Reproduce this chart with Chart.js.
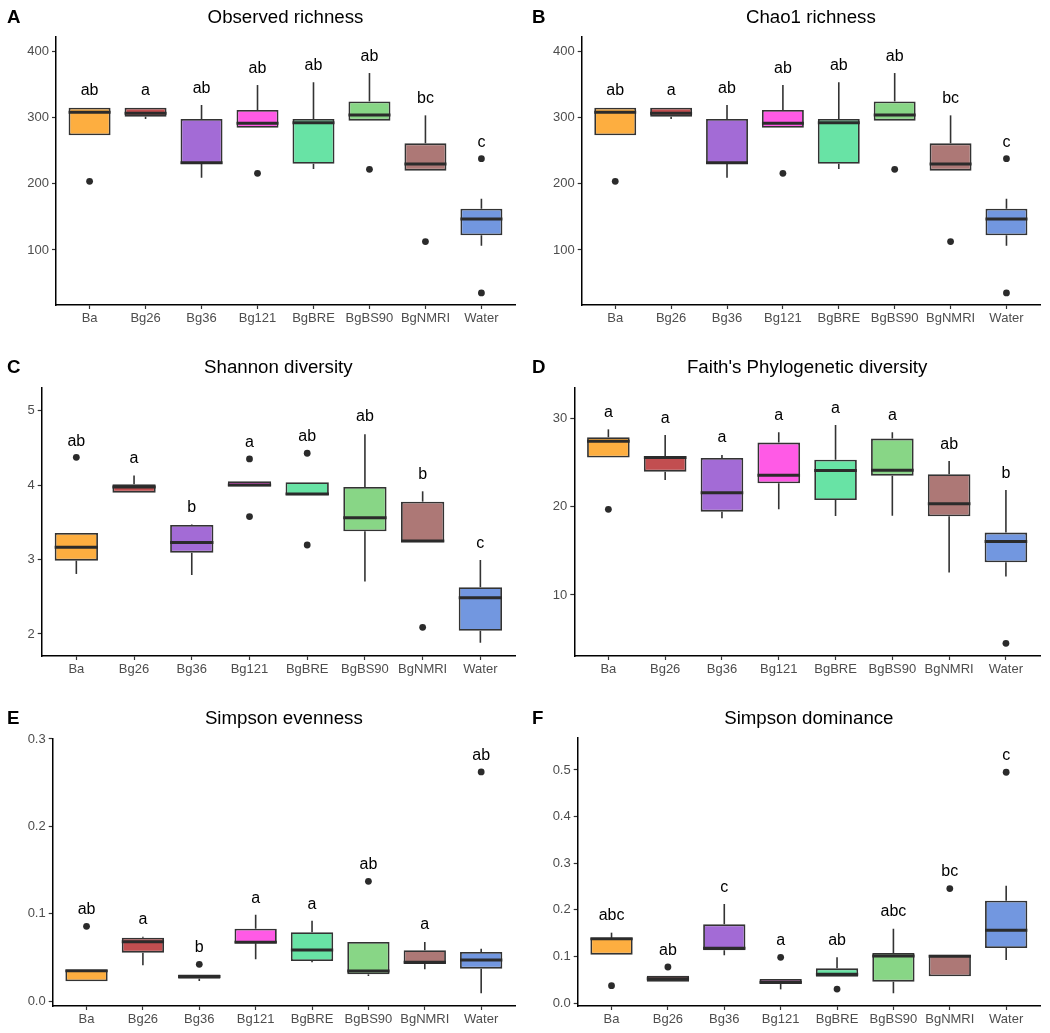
<!DOCTYPE html>
<html>
<head>
<meta charset="utf-8">
<script src="https://cdn.jsdelivr.net/npm/chart.js@4.4.1/dist/chart.umd.min.js"></script>
<style>
  body { margin: 0; background: #fff; }
  #wrap { position: relative; width: 1050px; height: 1033px; }
  canvas { position: absolute; }
</style>
</head>
<body>
<div id="wrap">
  <canvas id="panelA" width="525" height="330" style="left:0;top:0"></canvas>
  <canvas id="panelB" width="525" height="330" style="left:525px;top:0"></canvas>
  <canvas id="panelC" width="525" height="350" style="left:0;top:330px"></canvas>
  <canvas id="panelD" width="525" height="350" style="left:525px;top:330px"></canvas>
  <canvas id="panelE" width="525" height="353" style="left:0;top:680px"></canvas>
  <canvas id="panelF" width="525" height="353" style="left:525px;top:680px"></canvas>
</div>
<script>
const groups = ['Ba', 'Bg26', 'Bg36', 'Bg121', 'BgBRE', 'BgBS90', 'BgNMRI', 'Water'];
const fills = ['#FDAE40', '#C24E50', '#A36BD6', '#FF5AE6', '#68E3A5', '#88D686', '#AD7876', '#7297E0'];

// y tick values per panel
const richnessTicks = [100, 200, 300, 400];
const shannonTicks = [2, 3, 4, 5];
const faithTicks = [10, 20, 30];
const evennessTicks = [0, 0.1, 0.2, 0.3];
const dominanceTicks = [0, 0.1, 0.2, 0.3, 0.4, 0.5];

// rows: [lower whisker, Q1, median, Q3, upper whisker]
const observedStats = [
  [272.9, 272.9, 307.5, 314.6, 314.6],
  [297.5, 301.0, 306.0, 314.6, 314.6],
  [209.0, 229.6, 231.7, 297.5, 318.6],
  [284.4, 284.4, 291.0, 311.0, 348.7],
  [222.0, 230.0, 292.0, 297.5, 352.8],
  [295.0, 295.0, 303.5, 324.0, 366.8],
  [219.6, 219.6, 229.6, 260.8, 303.0],
  [106.5, 122.0, 146.7, 162.3, 177.4]
];
const observedOutliers = [[0, 203.5], [3, 215.6], [5, 221.6], [6, 112.6], [7, 237.7], [7, 35.2]];
const observedLetters = ['ab', 'a', 'ab', 'ab', 'ab', 'ab', 'bc', 'c'];
const observedLetterY = [340, 340, 344, 374, 378, 392, 328, 262];

const chao1Stats = [
  [272.9, 272.9, 307.5, 314.6, 314.6],
  [297.5, 301.0, 306.0, 314.6, 314.6],
  [209.0, 229.6, 231.7, 297.5, 318.6],
  [284.4, 284.4, 291.0, 311.0, 348.7],
  [222.0, 230.0, 292.0, 297.5, 352.8],
  [295.0, 295.0, 303.5, 324.0, 366.8],
  [219.6, 219.6, 229.6, 260.8, 303.0],
  [106.5, 122.0, 146.7, 162.3, 177.4]
];
const chao1Outliers = [[0, 203.5], [3, 215.6], [5, 221.6], [6, 112.6], [7, 237.7], [7, 35.2]];
const chao1Letters = ['ab', 'a', 'ab', 'ab', 'ab', 'ab', 'bc', 'c'];
const chao1LetterY = [340, 340, 344, 374, 378, 392, 328, 262];

const shannonStats = [
  [2.806, 2.985, 3.164, 3.356, 3.356],
  [3.898, 3.898, 3.974, 4.010, 4.127],
  [2.792, 3.092, 3.227, 3.464, 3.470],
  [3.979, 3.979, 4.001, 4.051, 4.051],
  [3.863, 3.863, 3.880, 4.037, 4.037],
  [2.703, 3.379, 3.562, 3.974, 4.682],
  [3.231, 3.231, 3.249, 3.777, 3.916],
  [1.883, 2.044, 2.488, 2.627, 2.994]
];
const shannonOutliers = [[0, 4.373], [3, 4.351], [3, 3.576], [4, 4.427], [4, 3.195], [6, 2.089]];
const shannonLetters = ['ab', 'a', 'b', 'a', 'ab', 'ab', 'b', 'c'];
const shannonLetterY = [4.59, 4.35, 3.70, 4.57, 4.65, 4.915, 4.145, 3.218];

const faithStats = [
  [25.55, 25.55, 27.40, 27.85, 28.75],
  [23.02, 23.96, 25.55, 25.70, 28.11],
  [18.68, 19.43, 21.58, 25.51, 25.85],
  [19.70, 22.64, 23.55, 27.25, 28.42],
  [18.94, 20.75, 24.08, 25.32, 29.25],
  [18.98, 23.51, 24.11, 27.70, 28.42],
  [12.53, 18.91, 20.34, 23.66, 25.17],
  [12.08, 13.70, 16.04, 17.06, 21.89]
];
const faithOutliers = [[0, 19.70], [7, 4.53]];
const faithLetters = ['a', 'a', 'a', 'a', 'a', 'a', 'ab', 'b'];
const faithLetterY = [30.64, 30.0, 27.81, 30.26, 31.13, 30.26, 27.06, 23.77];

const evennessStats = [
  [0.0228, 0.0228, 0.0350, 0.0358, 0.0358],
  [0.0411, 0.0556, 0.0682, 0.0728, 0.0739],
  [0.0232, 0.0259, 0.0282, 0.0305, 0.0305],
  [0.0480, 0.0663, 0.0674, 0.0831, 0.0991],
  [0.0446, 0.0461, 0.0587, 0.0789, 0.0922],
  [0.0289, 0.0308, 0.0347, 0.0678, 0.0678],
  [0.0366, 0.0427, 0.0446, 0.0583, 0.0678],
  [0.0091, 0.0373, 0.0472, 0.0564, 0.0602]
];
const evennessOutliers = [[0, 0.0857], [2, 0.0423], [5, 0.1372], [7, 0.2623]];
const evennessLetters = ['ab', 'a', 'b', 'a', 'a', 'ab', 'a', 'ab'];
const evennessLetterY = [0.105, 0.093, 0.0617, 0.1178, 0.1109, 0.1567, 0.0873, 0.2809];

const dominanceStats = [
  [0.1037, 0.1037, 0.1380, 0.1395, 0.1509],
  [0.0458, 0.0458, 0.0522, 0.0587, 0.0587],
  [0.1023, 0.1130, 0.1173, 0.1688, 0.2124],
  [0.0293, 0.0408, 0.0444, 0.0515, 0.0515],
  [0.0565, 0.0565, 0.0615, 0.0744, 0.0980],
  [0.0207, 0.0458, 0.1009, 0.1073, 0.1595],
  [0.0572, 0.0572, 0.1001, 0.1037, 0.1037],
  [0.0923, 0.1180, 0.1559, 0.2196, 0.2518]
];
const dominanceOutliers = [[0, 0.0372], [1, 0.0773], [3, 0.098], [4, 0.030], [6, 0.2454], [7, 0.495]];
const dominanceLetters = ['abc', 'ab', 'c', 'a', 'ab', 'abc', 'bc', 'c'];
const dominanceLetterY = [0.1867, 0.113, 0.2468, 0.133, 0.1338, 0.196, 0.2818, 0.5308];

const FONT = '"Liberation Sans", Arial, Helvetica, sans-serif';
Chart.defaults.font.family = FONT;

function makePanel(id, p) {
  const boxplot = {
    id: 'boxplot',
    beforeDatasetsDraw(chart) {
      const { ctx, scales: { x, y } } = chart;
      ctx.save();
      ctx.strokeStyle = '#333';
      ctx.lineWidth = 1.6;
      p.stats.forEach((s, i) => {
        const px = x.getPixelForValue(i);
        ctx.beginPath();
        ctx.moveTo(px, y.getPixelForValue(s[3]));
        ctx.lineTo(px, y.getPixelForValue(s[4]));
        ctx.moveTo(px, y.getPixelForValue(s[1]));
        ctx.lineTo(px, y.getPixelForValue(s[0]));
        ctx.stroke();
      });
      ctx.restore();
    },
    afterDatasetsDraw(chart) {
      const { ctx, scales: { x, y } } = chart;
      const bars = chart.getDatasetMeta(0).data;
      ctx.save();
      ctx.strokeStyle = '#2b2b2b';
      ctx.lineWidth = 3;
      p.stats.forEach((s, i) => {
        const w = bars[i].width;
        const px = x.getPixelForValue(i);
        const py = y.getPixelForValue(s[2]);
        ctx.beginPath();
        ctx.moveTo(px - w / 2, py);
        ctx.lineTo(px + w / 2, py);
        ctx.stroke();
      });
      ctx.fillStyle = '#000';
      ctx.font = '16px ' + FONT;
      ctx.textAlign = 'center';
      ctx.textBaseline = 'middle';
      p.letters.forEach((t, i) => {
        ctx.fillText(t, x.getPixelForValue(i), y.getPixelForValue(p.letterY[i]));
      });
      ctx.restore();
    },
    afterDraw(chart) {
      const { ctx, chartArea } = chart;
      ctx.save();
      ctx.fillStyle = '#000';
      ctx.textBaseline = 'middle';
      ctx.textAlign = 'center';
      ctx.font = '18.7px ' + FONT;
      ctx.fillText(p.title, (chartArea.left + chartArea.right) / 2, p.titleY);
      ctx.textAlign = 'left';
      ctx.font = 'bold 18.7px ' + FONT;
      ctx.fillText(p.tag, 7, p.titleY);
      ctx.restore();
    }
  };

  new Chart(document.getElementById(id), {
    type: 'bar',
    data: {
      datasets: [
        {
          type: 'bar',
          data: p.stats.map((s, i) => ({ x: i, y: [s[1], s[3]] })),
          backgroundColor: fills,
          borderColor: '#333',
          borderWidth: 1.8,
          borderSkipped: false,
          barPercentage: 0.75,
          categoryPercentage: 1,
          order: 2
        },
        {
          type: 'scatter',
          data: p.outliers.map(o => ({ x: o[0], y: o[1] })),
          pointRadius: 3.4,
          pointBackgroundColor: '#2b2b2b',
          pointBorderWidth: 0,
          order: 1
        }
      ]
    },
    options: {
      responsive: false,
      animation: false,
      layout: { padding: { top: p.top, right: 10, left: 0, bottom: 0 } },
      plugins: { legend: { display: false }, tooltip: { enabled: false } },
      scales: {
        x: {
          type: 'linear',
          min: -0.6,
          max: 7.6,
          offset: false,
          grid: { drawOnChartArea: false, tickLength: 4, tickColor: '#333', tickWidth: 1.2, offset: false },
          border: { color: '#000', width: 1.5 },
          afterBuildTicks: s => { s.ticks = groups.map((g, i) => ({ value: i })); },
          ticks: {
            autoSkip: false,
            maxRotation: 0,
            padding: 2,
            color: '#4d4d4d',
            font: { size: 13 },
            callback: v => groups[v]
          },
          afterFit: s => { s.height = p.xh; }
        },
        y: {
          type: 'linear',
          min: p.min,
          max: p.max,
          grid: { drawOnChartArea: false, tickLength: 4, tickColor: '#333', tickWidth: 1.2 },
          border: { color: '#000', width: 1.5 },
          afterBuildTicks: s => { s.ticks = p.ticks.map(v => ({ value: v })); },
          ticks: {
            padding: 3,
            color: '#4d4d4d',
            font: { size: 13 },
            callback: v => v.toFixed(p.digits)
          },
          afterFit: s => { s.width = p.left; }
        }
      }
    },
    plugins: [boxplot]
  });
}

makePanel('panelA', { tag: 'A', title: 'Observed richness', titleY: 18.3, top: 36.7, left: 56, xh: 25,
  min: 17, max: 421.6, ticks: richnessTicks, digits: 0,
  stats: observedStats, outliers: observedOutliers, letters: observedLetters, letterY: observedLetterY });
makePanel('panelB', { tag: 'B', title: 'Chao1 richness', titleY: 18.3, top: 36.7, left: 56.7, xh: 25,
  min: 17, max: 421.6, ticks: richnessTicks, digits: 0,
  stats: chao1Stats, outliers: chao1Outliers, letters: chao1Letters, letterY: chao1LetterY });
makePanel('panelC', { tag: 'C', title: 'Shannon diversity', titleY: 38.3, top: 57.3, left: 41.7, xh: 24,
  min: 1.704, max: 5.313, ticks: shannonTicks, digits: 0,
  stats: shannonStats, outliers: shannonOutliers, letters: shannonLetters, letterY: shannonLetterY });
makePanel('panelD', { tag: 'D', title: "Faith's Phylogenetic diversity", titleY: 38.3, top: 57.3, left: 49.3, xh: 24,
  min: 3.09, max: 33.51, ticks: faithTicks, digits: 0,
  stats: faithStats, outliers: faithOutliers, letters: faithLetters, letterY: faithLetterY });
makePanel('panelE', { tag: 'E', title: 'Simpson evenness', titleY: 39, top: 58.3, left: 52.7, xh: 27,
  min: -0.0054, max: 0.3008, ticks: evennessTicks, digits: 1,
  stats: evennessStats, outliers: evennessOutliers, letters: evennessLetters, letterY: evennessLetterY });
makePanel('panelF', { tag: 'F', title: 'Simpson dominance', titleY: 39, top: 57.3, left: 52.7, xh: 27,
  min: -0.0064, max: 0.570, ticks: dominanceTicks, digits: 1,
  stats: dominanceStats, outliers: dominanceOutliers, letters: dominanceLetters, letterY: dominanceLetterY });
</script>
</body>
</html>
